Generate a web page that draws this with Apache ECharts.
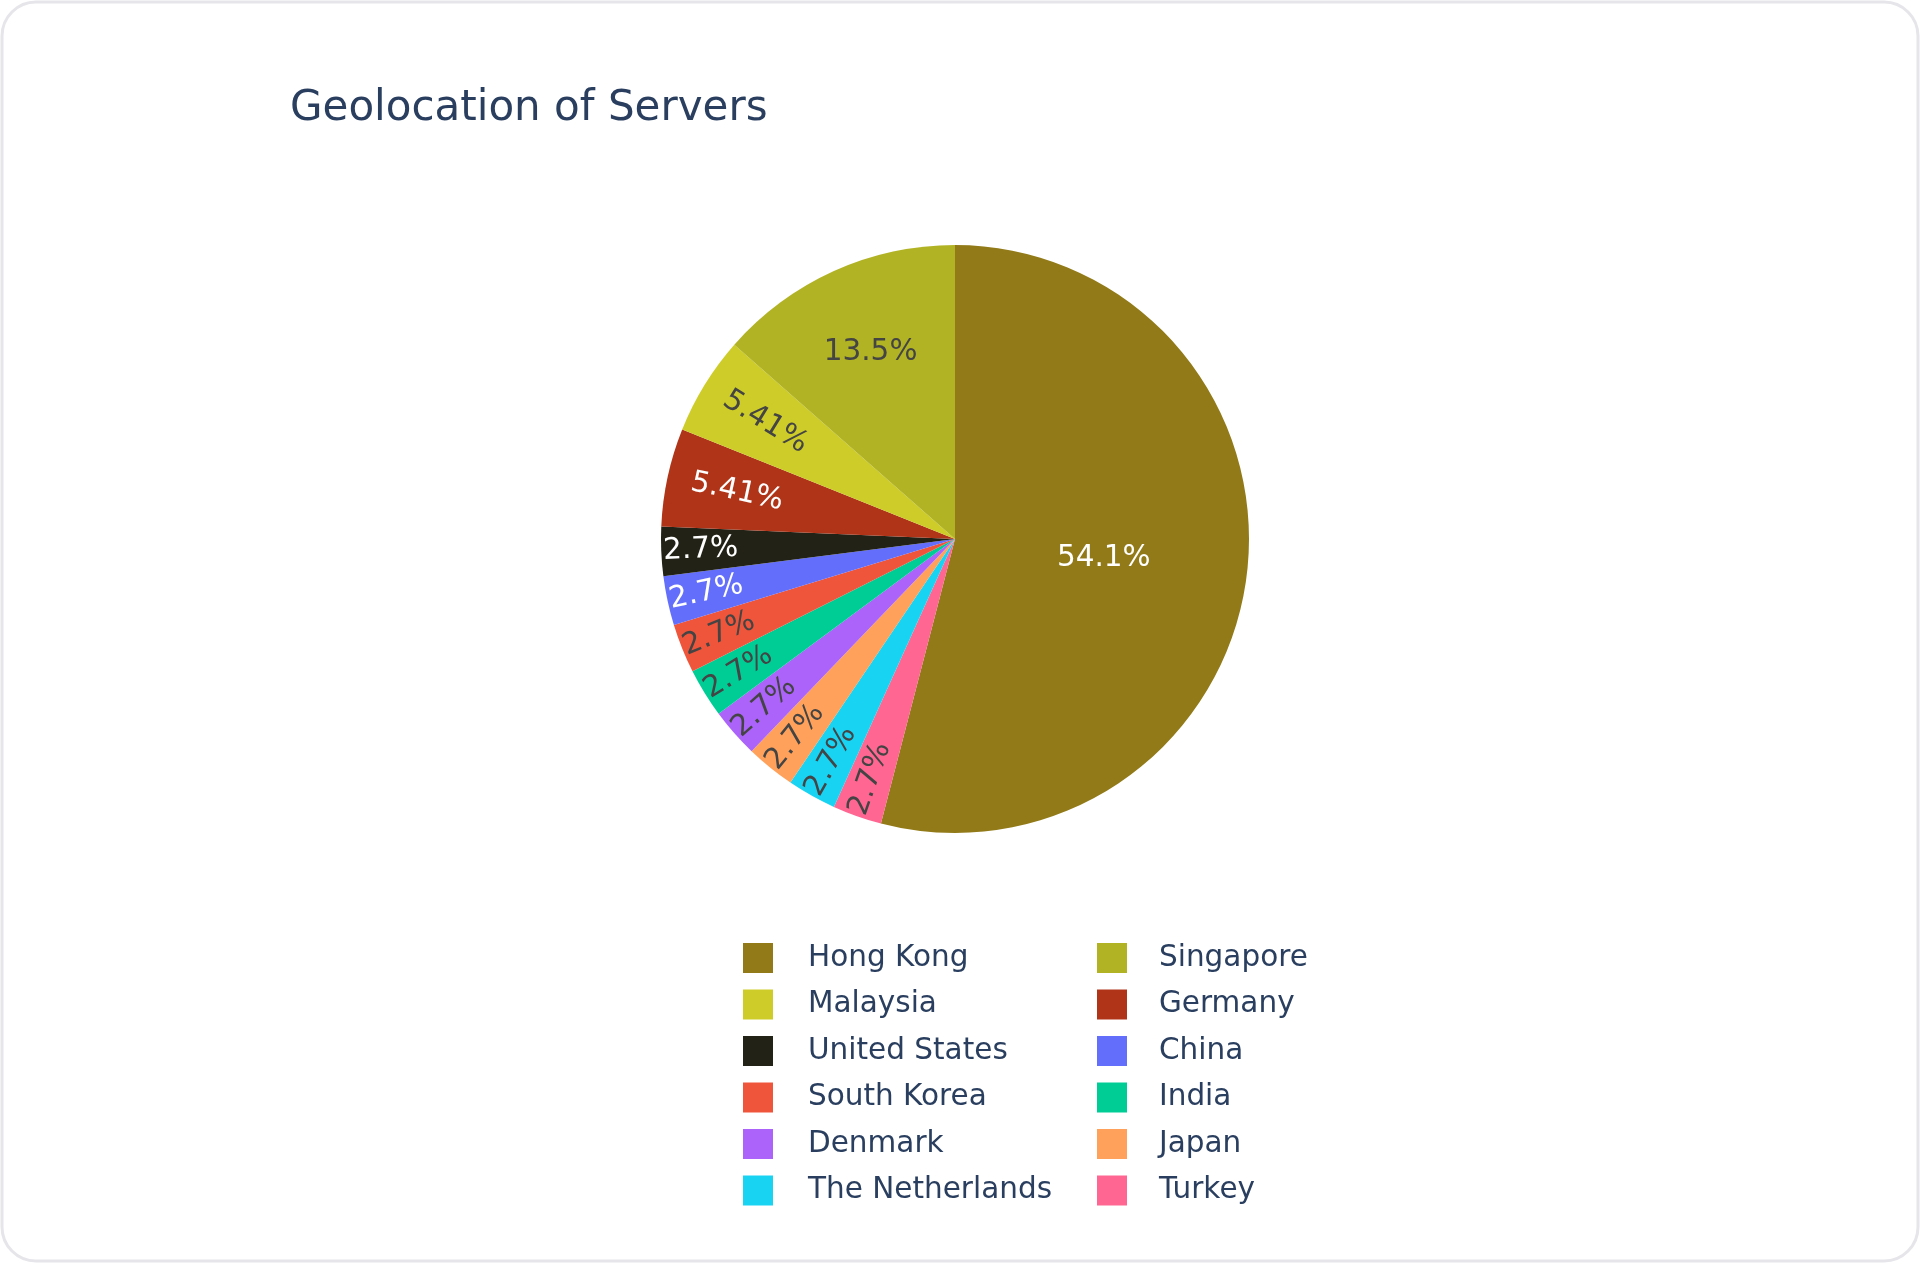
<!DOCTYPE html>
<html>
<head>
<meta charset="utf-8">
<script src="https://cdn.jsdelivr.net/npm/echarts@6/dist/echarts.min.js"></script>
<style>
html,body{margin:0;padding:0;background:#fff;}
#chart{width:1920px;height:1263px;}
</style>
</head>
<body>
<div id="chart"></div>
<script>
// Data (slice order clockwise from 12 o'clock)
const sliceNames = ['Hong Kong','Turkey','The Netherlands','Japan','Denmark','India','South Korea','China','United States','Germany','Malaysia','Singapore'];
const sliceValues = [20, 1, 1, 1, 1, 1, 1, 1, 1, 2, 2, 5];
const sliceColors = ['#917A17','#FF6692','#19D3F3','#FFA15A','#AB63FA','#00CC96','#EF553B','#636EFA','#222216','#AF3418','#CDCC29','#B1B324'];
const legendLeftCol = ['Hong Kong','Malaysia','United States','South Korea','Denmark','The Netherlands'];
const legendRightCol = ['Singapore','Germany','China','India','Japan','Turkey'];
const whiteLabelNames = ['Hong Kong','Germany','United States','China'];
const titleText = 'Geolocation of Servers';

const FONT = 'DejaVu Sans';
const LABEL_SIZE = 29.5;
const R = 294;
const CENTER = [955, 539];

const total = sliceValues.reduce((a,b)=>a+b,0);
function pctText(v){
  const p = v/total*100;
  return parseFloat(p.toPrecision(3)) + '%';
}

// label groups: which names get labels on which ring
const ringGroups = [
  {inner: 0, names: ['Hong Kong'], rotate: 0},
  {inner: 110, names: ['Singapore'], rotate: 0},
  {inner: 146, names: ['Malaysia','Germany'], rotate: 'radial'},
  {inner: 209, names: ['Turkey','The Netherlands','Japan','Denmark','India','South Korea','China','United States'], rotate: 'radial'}
];

function makeData(showNames, rotate, visible){
  return sliceNames.map((n,i)=>({
    name: n,
    value: sliceValues[i],
    itemStyle: {color: visible ? sliceColors[i] : 'rgba(0,0,0,0)'},
    label: {
      show: showNames.indexOf(n) >= 0,
      rotate: rotate,
      color: whiteLabelNames.indexOf(n) >= 0 ? '#ffffff' : '#444444'
    }
  }));
}

const series = [];
ringGroups.forEach((g, gi)=>{
  series.push({
    type: 'pie',
    center: CENTER,
    radius: [g.inner, R],
    startAngle: 90,
    clockwise: true,
    avoidLabelOverlap: false,
    minAngle: 0,
    silent: gi > 0,
    z: 2 + gi,
    emphasis: {disabled: true},
    labelLine: {show: false},
    label: {
      position: 'inside',
      fontFamily: FONT,
      fontSize: LABEL_SIZE,
      formatter: p => pctText(p.value)
    },
    itemStyle: {borderWidth: 0},
    data: makeData(g.names, g.rotate, gi === 0)
  });
});

function legendCfg(names, left, textPadLeft){
  return {
    orient: 'vertical',
    left: left,
    top: 939,
    padding: 0,
    icon: 'rect',
    itemWidth: 30,
    itemHeight: 30,
    itemGap: 8.5,
    data: names,
    selectedMode: false,
    textStyle: {
      fontFamily: FONT,
      fontSize: LABEL_SIZE,
      color: '#2a3f5f',
      lineHeight: 30,
      padding: [8,0,0,textPadLeft]
    }
  };
}

const chart = echarts.init(document.getElementById('chart'), null, {renderer: 'canvas'});
chart.setOption({
  backgroundColor: '#ffffff',
  animation: false,
  graphic: [{
    type: 'rect',
    z: -10,
    shape: {x: 2, y: 2, width: 1916, height: 1259, r: 34},
    style: {fill: '#ffffff', stroke: '#e6e6ea', lineWidth: 3},
    silent: true
  }],
  title: {
    text: titleText,
    left: 290,
    top: 88,
    padding: 0,
    textStyle: {fontFamily: FONT, fontSize: 42, fontWeight: 'normal', color: '#2a3f5f'}
  },
  legend: [legendCfg(legendLeftCol, 743, 30), legendCfg(legendRightCol, 1097, 27)],
  series: series
});
</script>
</body>
</html>
